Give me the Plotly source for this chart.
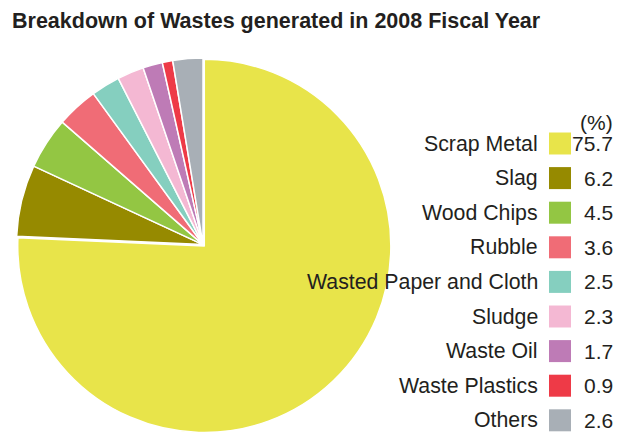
import plotly.graph_objects as go

# Waste categories and their share (%) for FY2008
categories = ["Scrap Metal", "Slag", "Wood Chips", "Rubble", "Wasted Paper and Cloth",
              "Sludge", "Waste Oil", "Waste Plastics", "Others"]
shares = [75.7, 6.2, 4.5, 3.6, 2.5, 2.3, 1.7, 0.9, 2.6]
share_labels = ["75.7", "6.2", "4.5", "3.6", "2.5", "2.3", "1.7", "0.9", "2.6"]
colors = ["#E8E44A", "#968A00", "#93C643", "#F06C76", "#85CFBF",
          "#F4B8D3", "#BE7BB6", "#EE3A47", "#A8AFB6"]
pulls = [0.01, 0, 0, 0, 0, 0, 0, 0, 0]

W, H = 619, 433
TEXT = "#231F20"
FONT = "Liberation Sans, Arial, sans-serif"

# pie placement in pixels
cx, cy, r = 203, 245, 187
half = r * (1 + max(pulls))
dom_x = [(cx - half) / W, (cx + half) / W]
dom_y = [max(0.0, 1 - (cy + half) / H), 1 - (cy - half) / H]

fig = go.Figure(go.Pie(
    labels=categories, values=shares, sort=False, direction="clockwise", rotation=0,
    marker=dict(colors=colors, line=dict(color="white", width=1.5)),
    pull=pulls, textinfo="none", showlegend=False,
    domain=dict(x=dom_x, y=dom_y),
))

def px(x):
    return x / W

def py(y):
    return 1 - y / H

# custom legend: label, colour swatch, value
row0, step = 143.5, 34.6
for i, (name, col, val) in enumerate(zip(categories, colors, share_labels)):
    yc = row0 + i * step
    fig.add_annotation(x=px(540), y=py(yc), xref="paper", yref="paper", text=name,
                       showarrow=False, xanchor="right", yanchor="middle",
                       font=dict(family=FONT, size=21.3, color=TEXT))
    fig.add_shape(type="rect", xref="paper", yref="paper",
                  x0=px(549), x1=px(571), y0=py(yc - 11), y1=py(yc + 11),
                  fillcolor=col, line=dict(width=0))
    fig.add_annotation(x=px(615), y=py(yc), xref="paper", yref="paper", text=val,
                       showarrow=False, xanchor="right", yanchor="middle",
                       font=dict(family=FONT, size=21, color=TEXT))

fig.add_annotation(x=px(615), y=py(122), xref="paper", yref="paper", text="(%)",
                   showarrow=False, xanchor="right", yanchor="middle",
                   font=dict(family=FONT, size=21, color=TEXT))

fig.update_layout(
    width=W, height=H,
    margin=dict(l=0, r=0, t=0, b=0),
    paper_bgcolor="white", plot_bgcolor="white",
    title=dict(text="<b>Breakdown of Wastes generated in 2008 Fiscal Year</b>",
               x=px(12), xanchor="left", xref="paper",
               y=py(20), yanchor="middle", yref="paper",
               font=dict(family=FONT, size=21.5, color=TEXT)),
)

fig.write_html("out.html")
